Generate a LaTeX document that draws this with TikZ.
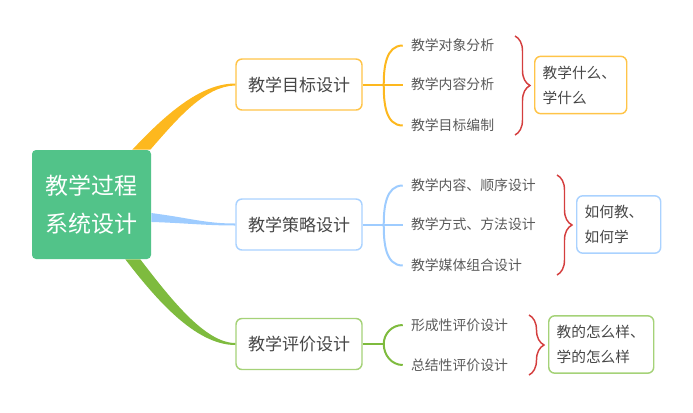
\documentclass[tikz,border=0pt]{standalone}
\usepackage{fontspec}
\setmainfont{Noto Sans CJK SC}
\usetikzlibrary{decorations.pathreplacing}
\definecolor{rootgreen}{RGB}{82,195,137}
\definecolor{goalorange}{RGB}{253,184,30}
\definecolor{goalborder}{RGB}{255,196,72}
\definecolor{stratblue}{RGB}{158,204,255}
\definecolor{stratborder}{RGB}{170,210,255}
\definecolor{evalgreen}{RGB}{126,187,62}
\definecolor{evalborder}{RGB}{165,210,120}
\definecolor{bracered}{RGB}{212,62,62}
\definecolor{textgray}{RGB}{70,70,70}
\definecolor{leafgray}{RGB}{90,90,90}
\tikzset{
	rootbox/.style={fill=rootgreen, rounded corners=3pt, minimum width=89.25pt, minimum height=81.75pt, text=white, align=center, inner sep=0pt, font=\fontsize{17.25}{28.5}\selectfont},
	branchbox/.style={draw=#1, line width=1.1pt, rounded corners=4.5pt, fill=white, minimum width=94.5pt, minimum height=38.25pt, text=textgray, inner sep=0pt, font=\fontsize{12.75}{15}\selectfont},
	leaftext/.style={anchor=west, inner sep=0pt, text=leafgray, font=\fontsize{10.4}{12}\selectfont},
	sumbox/.style={draw=#1, line width=1.1pt, rounded corners=4.5pt, anchor=west, align=left, inner xsep=6pt, minimum height=43pt, text=textgray, font=\fontsize{11}{18.75}\selectfont},
	leafline/.style={draw=#1, line width=1.5pt},
	redbrace/.style={draw=bracered, line width=1.1pt, decorate, decoration={brace, amplitude=11.25pt}},
}
\begin{document}
\begin{tikzpicture}[x=0.75pt, y=-0.75pt]
	\useasboundingbox (0,0) rectangle (693,412);
	\node[rootbox] (root) at (91.5,204.5) {教学过程\\系统设计};
	\node[branchbox=goalborder] (goal) at (299,84.5) {教学目标设计};
	\node[branchbox=stratborder] (strat) at (299,224.5) {教学策略设计};
	\node[branchbox=evalborder] (eval) at (299,344) {教学评价设计};
	\fill[goalorange] ([xshift=-14.25pt]root.north east) .. controls (165,115) and (200,83.5) .. ([yshift=0.75pt]goal.west) -- ([yshift=-0.75pt]goal.west) .. controls (205,86) and (178,118) .. ([xshift=-0.75pt]root.north east) -- cycle;
	\fill[stratblue] ([yshift=-6.4pt]root.east) .. controls (190,218) and (205,223.5) .. ([yshift=0.75pt]strat.west) -- ([yshift=-0.75pt]strat.west) .. controls (205,225.5) and (185,223) .. ([yshift=-13.1pt]root.east) -- cycle;
	\fill[evalgreen] ([xshift=-19.5pt]root.south east) .. controls (155,298) and (195,345) .. ([yshift=-0.75pt]eval.west) -- ([yshift=0.75pt]eval.west) .. controls (205,343) and (170,298) .. ([xshift=-8.25pt]root.south east) -- cycle;
	\node[leaftext] (g1) at ([xshift=36pt,yshift=29.25pt]goal.east) {教学对象分析};
	\node[leaftext] (g2) at ([xshift=36pt]goal.east) {教学内容分析};
	\node[leaftext] (g3) at ([xshift=36pt,yshift=-30.75pt]goal.east) {教学目标编制};
	\node[leaftext] (t1) at ([xshift=36pt,yshift=29.25pt]strat.east) {教学内容、顺序设计};
	\node[leaftext] (t2) at ([xshift=36pt]strat.east) {教学方式、方法设计};
	\node[leaftext] (t3) at ([xshift=36pt,yshift=-30.75pt]strat.east) {教学媒体组合设计};
	\node[leaftext] (e1) at ([xshift=36pt,yshift=14.25pt]eval.east) {形成性评价设计};
	\node[leaftext] (e2) at ([xshift=36pt,yshift=-15.75pt]eval.east) {总结性评价设计};
	\coordinate (gj) at ([xshift=15.75pt]goal.east);
	\coordinate (tj) at ([xshift=15.75pt]strat.east);
	\coordinate (ej) at ([xshift=15.75pt]eval.east);
	\draw[leafline=goalorange] (goal.east) -- (gj) -- ([xshift=-6pt]g2.west);
	\draw[leafline=goalorange] ([xshift=-6pt]g1.west) to[out=180,in=90] (gj) to[out=-90,in=180] ([xshift=-6pt]g3.west);
	\draw[leafline=stratblue] (strat.east) -- (tj) -- ([xshift=-6pt]t2.west);
	\draw[leafline=stratblue] ([xshift=-6pt]t1.west) to[out=180,in=90] (tj) to[out=-90,in=180] ([xshift=-6pt]t3.west);
	\draw[leafline=evalgreen] (eval.east) -- (ej);
	\draw[leafline=evalgreen] ([xshift=-6pt]e1.west) to[out=180,in=90] (ej) to[out=-90,in=180] ([xshift=-6pt]e2.west);
	\draw[redbrace] (515,36) -- (515,135);
	\draw[redbrace] (557,175) -- (557,275);
	\draw[redbrace] (529,315) -- (529,375);
	\node[sumbox=goalborder, text width=57pt] (s1) at (534,85) {教学什么、\\学什么};
	\node[sumbox=stratborder, text width=51pt] (s2) at (576,224.5) {如何教、\\如何学};
	\node[sumbox=evalborder, text width=66.75pt] (s3) at (548,344.5) {教的怎么样、\\学的怎么样};
\end{tikzpicture}
\end{document}
